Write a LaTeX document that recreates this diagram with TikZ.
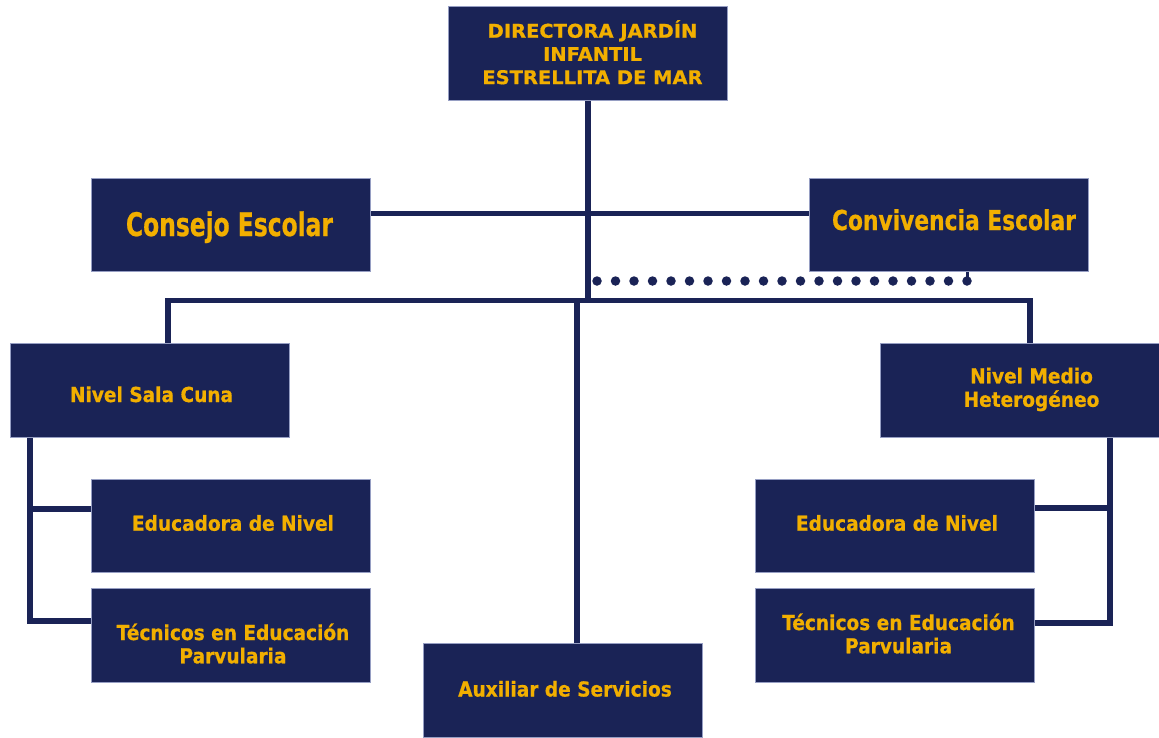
\documentclass[tikz,border=0pt]{standalone}
\usepackage{fontspec}
\usepackage{graphicx}
\setmainfont{DejaVu Sans}[BoldFeatures={FakeBold=0.7}]
\newfontfamily\condfont{DejaVu Sans Condensed}[BoldFeatures={FakeBold=0.7}]
\usetikzlibrary{calc}
\definecolor{navy}{RGB}{26,35,86}
\definecolor{gold}{RGB}{242,175,0}
\definecolor{edge}{RGB}{150,158,195}
\pgfdeclarelayer{bg}
\pgfdeclarelayer{lines}
\pgfsetlayers{bg,lines,main}
\newcommand{\bt}[2]{\scalebox{#1}[1]{\begin{tabular}[t]{@{}c@{}}#2\end{tabular}}}
\begin{document}
\begin{tikzpicture}[x=1pt,y=-1pt,
  box/.style={fill=navy, draw=edge, line width=0.6pt, minimum width=279pt, minimum height=94pt, inner sep=0pt, anchor=north west},
  txt/.style={text=gold, inner sep=0pt, anchor=base, font=\bfseries\fontsize{20.6}{23.3}\selectfont},
  dtxt/.style={text=gold, inner sep=0pt, anchor=base, font=\bfseries\fontsize{18.9}{23.2}\selectfont},
  bigtxt/.style={text=gold, inner sep=0pt, anchor=base},
  conn/.style={draw=navy, line width=5.5pt, line join=miter},
  dotline/.style={draw=navy, line width=9.5pt, line cap=round, dash pattern=on 0pt off 18.5pt}]
\begin{pgfonlayer}{bg}
\fill[white] (0,0) rectangle (1159,737);
\end{pgfonlayer}
\useasboundingbox (0,0) rectangle (1159,737);

% boxes
\node[box] (dir) at (448,6) {};
\node[box, minimum height=93pt] (cons) at (91,178) {};
\node[box, minimum height=93pt] (conv) at (809,178) {};
\node[box] (sala) at (10,343) {};
\node[box] (medio) at (880,343) {};
\node[box, minimum height=93pt] (edL) at (91,479) {};
\node[box] (tecL) at (91,588) {};
\node[box] (aux) at (423,643) {};
\node[box, minimum height=93pt] (edR) at (755,479) {};
\node[box] (tecR) at (755,588) {};

% texts
\node[dtxt] (tdir) at (592.5,37.7) {\bt{1.03}{DIRECTORA JARDÍN\\INFANTIL\\ESTRELLITA DE MAR}};
\node[bigtxt] (tcons) at (229.5,236) {\resizebox{207pt}{\height}{\condfont\bfseries\fontsize{32.5}{36}\selectfont Consejo Escolar}};
\node[bigtxt] (tconv) at (954,230) {\resizebox{244pt}{\height}{\condfont\bfseries\fontsize{27.4}{30}\selectfont Convivencia Escolar}};
\node[txt] (tsala) at (151.5,402) {\bt{0.9}{Nivel Sala Cuna}};
\node[txt] (tmedio) at (1031.5,383.3) {\bt{0.9}{Nivel Medio\\Heterogéneo}};
\node[txt] (tedL) at (233,530.7) {\bt{0.9}{Educadora de Nivel}};
\node[txt] (ttecL) at (233,640) {\bt{0.9}{Técnicos en Educación\\Parvularia}};
\node[txt] (taux) at (565,696.5) {\bt{0.9}{Auxiliar de Servicios}};
\node[txt] (tedR) at (897,530.7) {\bt{0.9}{Educadora de Nivel}};
\node[txt] (ttecR) at (898.5,630) {\bt{0.9}{Técnicos en Educación\\Parvularia}};

% connector coordinates
\coordinate (hy) at (0,213.5);
\coordinate (busL) at (168,300.5);
\coordinate (busR) at (1030,300.5);
\coordinate (cdown) at (577,300.5);
\coordinate (ds) at (597,281);
\coordinate (de) at (967,281);
\coordinate (lb1) at (30,509);
\coordinate (lb2) at (30,621);
\coordinate (rb1) at (1110,508);
\coordinate (rb2) at (1110,623);

\begin{pgfonlayer}{lines}
\draw[conn] (dir.south) -- (dir.south |- busL);
\draw[conn] (cons.east |- hy) -- (conv.west |- hy);
\draw[conn] (sala.north -| busL) -- (busL) -- (busR) -- (medio.north -| busR);
\draw[conn] (cdown) -- (aux.north -| cdown);
\draw[dotline] (ds) -- ($(de)+(0.1,0)$);
\draw[navy, line width=3pt] (de) -- (conv.south -| de);
\draw[conn] (sala.south -| lb1) -- (lb2) -- (tecL.west |- lb2);
\draw[conn] (lb1) -- (edL.west |- lb1);
\draw[conn] (medio.south -| rb1) -- (rb2) -- (tecR.east |- rb2);
\draw[conn] (rb1) -- (edR.east |- rb1);
\end{pgfonlayer}
\end{tikzpicture}
\end{document}
